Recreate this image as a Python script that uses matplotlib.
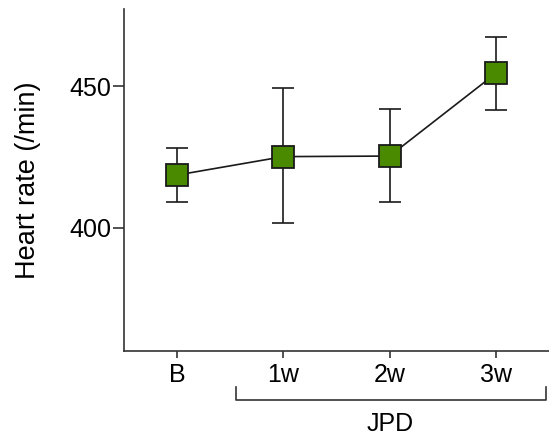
import numpy as np
import matplotlib.pyplot as plt

plt.rcParams['font.family'] = ['Liberation Sans', 'DejaVu Sans']

labels = ['B', '1w', '2w', '3w']
hr = [418.6, 425.1, 425.3, 454.5]
err_hi = [428.0, 449.4, 441.9, 467.3]
err_lo = [409.2, 401.7, 409.0, 441.6]

x = np.arange(len(labels))
hr = np.array(hr)
yerr = [hr - np.array(err_lo), np.array(err_hi) - hr]

fig = plt.figure(figsize=(5.49, 4.42), dpi=100)
ax = fig.add_axes([0.2259, 0.2066, 0.7741, 0.773])

ax.errorbar(x, hr, yerr=yerr, fmt='-', color='#1a1a1a', lw=1.2,
            ecolor='#1a1a1a', elinewidth=1.2, capsize=8, capthick=1.2, zorder=2)
ax.plot(x, hr, 's', ms=16, mfc='#4a8a00', mec='#1a1a1a', mew=1.3, zorder=3)

ax.set_xlim(-0.5, 3.5)
ax.set_ylim(356.6, 477.2)
ax.set_yticks([400, 450])
ax.set_xticks(x)
ax.set_xticklabels(labels)
ax.set_ylabel('Heart rate (/min)', fontsize=19.5)
ax.yaxis.set_label_coords(-0.195, 0.5)

for s in ['top', 'right']:
    ax.spines[s].set_visible(False)
for s in ['left', 'bottom']:
    ax.spines[s].set_linewidth(1.2)
    ax.spines[s].set_color('#333333')
ax.tick_params(direction='out', width=1.2, color='#333333', labelsize=18)
ax.tick_params(axis='y', length=8, pad=1)
ax.tick_params(axis='x', length=5, pad=4)

# bracket under JPD weeks
xb0, xb1 = 0.555, 3.475
ax.plot([xb0, xb0, xb1, xb1], [-0.105, -0.145, -0.145, -0.105],
        transform=ax.get_xaxis_transform(), color='#333333', lw=1.2,
        clip_on=False)
ax.text(2.0, -0.215, 'JPD', transform=ax.get_xaxis_transform(),
        ha='center', va='center', fontsize=18)

fig.savefig('out.png', dpi=100)
